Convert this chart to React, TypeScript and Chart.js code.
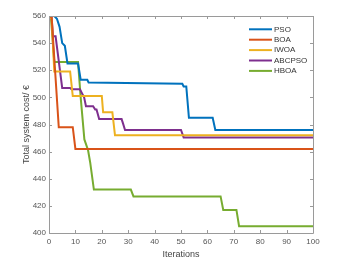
import React, { useEffect, useRef } from "react";
import { Chart, registerables } from "chart.js";

Chart.register(...registerables);

const seriesNames = ["PSO", "BOA", "IWOA", "ABCPSO", "HBOA"];
const seriesColors = ["#0072BD", "#D95319", "#EDB120", "#7E2F8E", "#77AC30"];

const psoIter = [0, 2, 3, 4, 5, 6, 7, 11, 12, 14.5, 15, 50.5, 51, 52, 53, 62, 63, 100];
const psoCost = [560, 560, 558, 552, 540, 538, 525, 525, 513, 513, 511, 510, 508, 508, 485, 485, 476, 476];

const boaIter = [0, 1, 3.7, 9, 10, 100];
const boaCost = [560, 559, 478, 478, 462, 462];

const iwoaIter = [0, 1, 2, 8, 9, 20, 20.5, 24, 25, 100];
const iwoaCost = [560, 558, 519, 519, 501, 501, 489, 489, 472, 472];

const abcpsoIter = [0, 1, 1.5, 2.5, 5, 8, 8.5, 11.7, 13.3, 14, 16.7, 17.5, 18, 19, 27.5, 28, 28.8, 50, 51, 100];
const abcpsoCost = [560, 559, 545, 545, 507, 507, 506, 506, 500, 493.5, 493.5, 491, 491, 484, 484, 481, 476, 476, 470.5, 470.5];

const hboaIter = [0, 0.7, 2, 11, 12, 13.4, 14.8, 15.6, 17, 31, 32, 65, 66, 71, 72, 100];
const hboaCost = [560, 560, 526, 526, 500, 469, 461, 452, 432, 432, 427, 427, 417, 417, 405, 405];

const xTicks = [0, 10, 20, 30, 40, 50, 60, 70, 80, 90, 100];
const yTicks = [400, 420, 440, 460, 480, 500, 520, 540, 560];

const iters = [psoIter, boaIter, iwoaIter, abcpsoIter, hboaIter];
const costs = [psoCost, boaCost, iwoaCost, abcpsoCost, hboaCost];

const FONT = "'Liberation Sans', Arial, Helvetica, sans-serif";

const frameAndLegend = {
  id: "frameAndLegend",
  afterDatasetsDraw(chart: any) {
    const { ctx, chartArea } = chart;
    const { left, right, top, bottom } = chartArea;
    const xs = chart.scales.x;
    const ys = chart.scales.y;
    ctx.save();
    ctx.strokeStyle = "#9a9a9a";
    ctx.lineWidth = 1;
    ctx.beginPath();
    ctx.rect(Math.round(left) + 0.5, Math.round(top) + 0.5, Math.round(right - left), Math.round(bottom - top));
    ctx.stroke();
    const tl = 3;
    ctx.beginPath();
    for (const v of xTicks) {
      const px = Math.round(xs.getPixelForValue(v)) + 0.5;
      ctx.moveTo(px, bottom);
      ctx.lineTo(px, bottom - tl);
      ctx.moveTo(px, top);
      ctx.lineTo(px, top + tl);
    }
    for (const v of yTicks) {
      const py = Math.round(ys.getPixelForValue(v)) + 0.5;
      ctx.moveTo(left, py);
      ctx.lineTo(left + tl, py);
      ctx.moveTo(right, py);
      ctx.lineTo(right - tl, py);
    }
    ctx.stroke();

    // legend
    const lx0 = right - 64;
    const lx1 = lx0 + 23;
    const ly0 = top + 13.3;
    const step = 10.4;
    ctx.font = `8px ${FONT}`;
    ctx.textBaseline = "middle";
    ctx.textAlign = "left";
    chart.data.datasets.forEach((ds: any, i: number) => {
      const y = ly0 + i * step;
      ctx.strokeStyle = ds.borderColor;
      ctx.lineWidth = 2;
      ctx.beginPath();
      ctx.moveTo(lx0, y);
      ctx.lineTo(lx1, y);
      ctx.stroke();
      ctx.fillStyle = "#333";
      ctx.fillText(ds.label, lx1 + 2, y);
    });
    ctx.restore();
  },
};

export default function App() {
  const ref = useRef<HTMLCanvasElement | null>(null);
  useEffect(() => {
    if (!ref.current) return;
    const datasets = seriesNames.map((name, i) => ({
      label: name,
      data: iters[i].map((x, j) => ({ x, y: costs[i][j] })),
      borderColor: seriesColors[i],
      backgroundColor: seriesColors[i],
      borderWidth: 2,
      pointRadius: 0,
      tension: 0,
      fill: false,
    }));
    const chart = new Chart(ref.current, {
      type: "line",
      data: { datasets },
      plugins: [frameAndLegend],
      options: {
        animation: false,
        responsive: true,
        maintainAspectRatio: false,
        layout: { padding: { top: 16, right: 48, left: 0, bottom: 0 } },
        plugins: { legend: { display: false }, tooltip: { enabled: false } },
        scales: {
          x: {
            type: "linear",
            min: 0,
            max: 100,
            afterFit: (s: any) => { s.height = 40; },
            afterBuildTicks: (s: any) => { s.ticks = xTicks.map((v) => ({ value: v })); },
            grid: { display: false, drawTicks: false, tickLength: 0 },
            border: { display: false },
            ticks: { font: { size: 8, family: FONT }, color: "#555", padding: 4, maxRotation: 0 },
            title: { display: true, text: "Iterations", font: { size: 9, family: FONT }, color: "#444", padding: { top: 0, bottom: 12.8 } },
          },
          y: {
            type: "linear",
            min: 400,
            max: 560,
            afterFit: (s: any) => { s.width = 49; },
            afterBuildTicks: (s: any) => { s.ticks = yTicks.map((v) => ({ value: v })); },
            grid: { display: false, drawTicks: false, tickLength: 0 },
            border: { display: false },
            ticks: { font: { size: 8, family: FONT }, color: "#555", padding: 3 },
            title: { display: true, text: "Total system cost/ €", font: { size: 9, family: FONT }, color: "#444", padding: { top: 21.3, bottom: 0 } },
          },
        },
      },
    });
    return () => chart.destroy();
  }, []);
  return (
    <div style={{ position: "absolute", left: 0, top: 0, width: 361, height: 273, background: "#fff" }}>
      <canvas ref={ref} />
    </div>
  );
}
